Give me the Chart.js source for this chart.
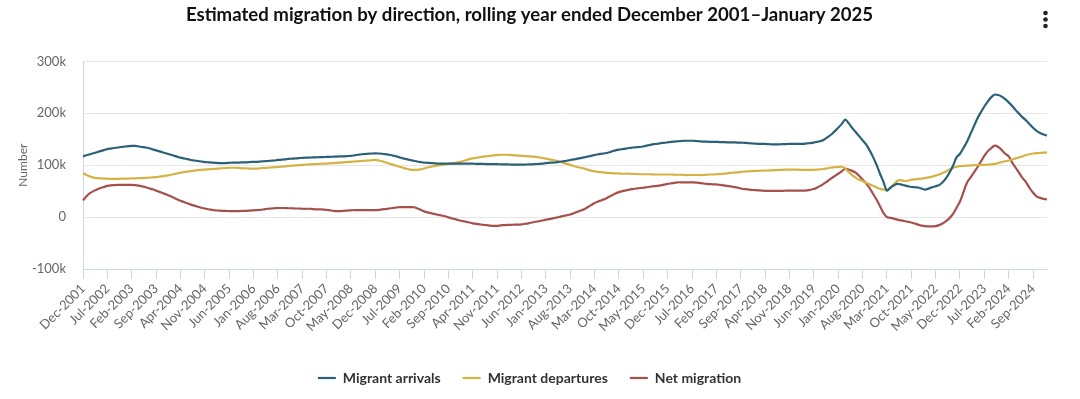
<!DOCTYPE html>
<html>
<head>
<meta charset="utf-8">
<script src="https://cdn.jsdelivr.net/npm/chart.js@4"></script>
<style>
  html, body { margin: 0; padding: 0; background: #ffffff; }
  #wrap { width: 1080px; height: 399px; position: relative; }
</style>
</head>
<body>
<div id="wrap"><canvas id="c" width="1080" height="399"></canvas></div>
<script>
// ---- Data (values in thousands) ----
const monthNames = ["Jan","Feb","Mar","Apr","May","Jun","Jul","Aug","Sep","Oct","Nov","Dec"];
const startYear = 2001, startMonth = 11; // Dec-2001
const monthCount = 278;                   // Dec-2001 .. Jan-2025

const tickLabels = ["Dec-2001","Jul-2002","Feb-2003","Sep-2003","Apr-2004","Nov-2004","Jun-2005","Jan-2006","Aug-2006","Mar-2007",
  "Oct-2007","May-2008","Dec-2008","Jul-2009","Feb-2010","Sep-2010","Apr-2011","Nov-2011","Jun-2012","Jan-2013",
  "Aug-2013","Mar-2014","Oct-2014","May-2015","Dec-2015","Jul-2016","Feb-2017","Sep-2017","Apr-2018","Nov-2018",
  "Jun-2019","Jan-2020","Aug-2020","Mar-2021","Oct-2021","May-2022","Dec-2022","Jul-2023","Feb-2024","Sep-2024"];

const yTicks = [-100, 0, 100, 200, 300];

const arrivals = [
  117,119,121,123,125,127,129,131,132,133,134,135,
  136,136.5,137,137,136,135,134,132.5,130.5,128.5,126.5,124.5,
  122.5,120.5,118.5,116.5,114.5,113,111.5,110,109,108,107,106,
  105.5,105,104.5,104,104,104,104.5,105,105,105,105.5,105.5,
  106,106.5,106.5,107,107.5,108,108.5,109,110,110.5,111,112,
  112.5,113,113.5,114,114.5,114.5,115,115,115.5,115.5,116,116,
  116.5,116.5,117,117,117.5,118,119,120,121,121.5,122,122.5,
  122.7,122.5,122,121,120,118.5,117,115,113,111.5,110,108.5,
  107,106,105,104.5,104,103.5,103,103,103,103,103,103,
  103,103,103,103,103,102.5,102.5,102.5,102,102,102,102,
  101.5,101.5,101.5,101,101,101,101,101,101.5,101.5,102,102.5,
  103,104,104.5,105,105.5,106.5,107.5,108.5,110,111,112.5,113.5,
  115,116.5,118,119.5,121,122,123,124.5,126.5,128.5,130,131,
  132,133,134,134.5,135,136,137.5,139,140.5,141,142.5,143,
  144,145,145.5,146,146.5,147,147,147,146.5,146,145.5,145.5,
  145,145,145,144.5,144.5,144,144,144,143.5,143.5,143,142.5,
  142,141.5,141,141,141,140.5,140,140,140,140.5,140.5,141,
  141,141,141,141,142,142.5,143.5,145,146.5,149.5,154,159,
  165.5,172,179,187.7,181,172,164,156,148,140,129,116,
  101,84,68,51,56.5,61,64,63,61,59.5,58,57.5,
  57,55,53,55,57.5,59.5,61.5,67,75,86,99,115,
  122,133,145,160,175,190,202,213,223,231,236,235,
  232,227,221,214,206,199,192,186,179,172,166,162,
  159,157
];

const departures = [
  85,81,78,76,75,74.5,74,74,73.5,73.5,73.5,74,
  74,74,74.5,74.5,75,75,75.5,76,76.5,77,78,79,
  80,81,82.5,84,85.5,86.5,87.5,88.5,89.5,90.5,91,91.5,
  92,92.5,93,93.5,94,94.5,95,95,95,94.5,94,94,
  93.5,93.5,93.5,94,94.5,95,95.5,96,96.5,97,97.5,98.5,
  99,99.5,100,100.5,101,101.5,102,102,102.5,103,103,103.5,
  104,104.5,105,105.5,106,106.5,107,107.5,108,108.5,109,109.5,
  110,109,107.5,105,103,101,99,97,95,93,91.5,91,
  91,92,93.5,95.5,97,98.5,99.5,100.5,101.5,102.5,103.5,104.5,
  106,107.5,109.5,111.5,113,114,115.5,116.5,117,118,119,119.5,
  120,120,120,119.5,119,118.5,118,117.5,117,116.5,116,115,
  114,112.5,111,110,108.5,106.5,104.5,102.5,100.5,98.5,96.5,95,
  93.5,91.5,89.5,88,87,86.5,85.5,85,84.5,84,84,83.5,
  83.5,83.5,83,83,82.5,82.5,82.5,82.5,82,82,82,82,
  82,82,81.5,81.5,81.5,81,81,81,81,81,81,81.5,
  82,82,82.5,83,83.5,84,85,85.5,86,87,87.5,88,
  88.5,89,89,89.5,89.5,90,90,90.5,91,91,91.5,91.5,
  91.5,91.5,91,91,91,91,91,91.5,92,93,94,95.5,
  96,96.5,97,94,87,81,76,72,69.5,66,63,60.5,
  57,54.5,53,52,57,63,70,71,69.5,70,72,72.5,
  73.5,74,75,76.5,78,80,82,85,88,91.5,95,97,
  98,98.5,99,99.5,100,100,100.5,100.5,101,101.5,102.5,104,
  106,107.5,109,111,113,115,117,119.5,121,122.5,123,123.5,
  124,124.5
];

const netMigration = [
  32,40,46,50,53,56,58,60,61,61.5,62,62,
  62,62,62,61.5,60.5,59,57.5,55.5,53.5,51,48.5,46,
  43.5,40.5,37.5,34.5,31.5,29,26.5,24,22,20,18,16.5,
  15,14,13,12.5,12,12,11.5,11.5,11.5,11.5,12,12,
  12.5,13,13.5,14,15,16,16.5,17,17.5,17.5,17.5,17,
  17,16.5,16.5,16,16,16,15.5,15,15,14.5,14,13,
  12,11.5,11.5,12,12.5,13,13.5,13.5,13.5,13.5,13.5,13.5,
  13.5,14,15,15.5,16.5,17.5,18.5,19,19,19,19,19,
  17,14,11,9,7.5,6,4.5,3,1.5,-0.5,-2.5,-4,
  -6,-7.5,-9,-10.5,-12,-13,-14,-15,-15.5,-16.5,-17,-17,
  -16,-15.5,-15,-15,-14.5,-14.5,-14,-13,-12,-10.5,-9,-8,
  -6.5,-5,-4,-2.5,-1,0.5,2,3.5,5,7.5,10,12.5,
  15,19,23,27,30,32.5,35,38.5,42,45.5,48,50,
  51.5,53,54,55,56,56.5,57.5,58.5,59.5,60,61,62.5,
  64,65,66,67,67,67,67,67,66.5,66,65,64,
  63.5,63,63,62,61,60,59,58,57,55,54,53.5,
  52.5,52,51.5,51,50.5,50.5,50.5,50.5,50.5,50.5,51,51,
  51,51,51,51,51.5,52.5,54,57,60.5,65,69.5,74.5,
  79,83.5,88,93.5,91.5,89,85.5,79.5,72.5,65,56,45,
  34,21,8,0,-1.5,-3,-5,-6.5,-7.5,-9,-10.5,-12.5,
  -14.5,-16.5,-17.5,-18,-18,-17.5,-15.5,-12.5,-8,-2,6,18,
  30,48,66,76,86,96,107,118,127,133,137.5,135,
  129,122,117,105,95,85,75,67,56,47,40,37,
  35,34
];

// category labels (one per month)
const categories = [];
for (let i = 0; i < monthCount; i++) {
  const mi = (startMonth + i) % 12;
  const yr = startYear + Math.floor((startMonth + i) / 12);
  categories.push(monthNames[mi] + "-" + yr);
}

const colors = { arrivals: "#2b6079", departures: "#d5b244", net: "#a6504d" };
const FONT = "Lato, 'Open Sans', sans-serif";

const menuDots = {
  id: "menuDots",
  afterDraw(chart) {
    const ctx = chart.ctx;
    ctx.save();
    ctx.fillStyle = "#222";
    [13, 19.5, 26].forEach(y => {
      ctx.beginPath();
      ctx.arc(1045.5, y, 2.3, 0, Math.PI * 2);
      ctx.fill();
    });
    ctx.restore();
  }
};

new Chart(document.getElementById("c"), {
  type: "line",
  data: {
    labels: categories,
    datasets: [
      { label: "Migrant arrivals", data: arrivals, borderColor: colors.arrivals, backgroundColor: colors.arrivals, borderWidth: 2.2, pointRadius: 0, tension: 0.3 },
      { label: "Migrant departures", data: departures, borderColor: colors.departures, backgroundColor: colors.departures, borderWidth: 2.2, pointRadius: 0, tension: 0.3 },
      { label: "Net migration", data: netMigration, borderColor: colors.net, backgroundColor: colors.net, borderWidth: 2.2, pointRadius: 0, tension: 0.3 }
    ]
  },
  options: {
    responsive: false,
    animation: false,
    devicePixelRatio: 1,
    layout: { padding: { left: 12, right: 33, top: 0, bottom: 4 } },
    plugins: {
      title: {
        display: true,
        text: "Estimated migration by direction, rolling year ended December 2001\u2013January 2025",
        color: "#111",
        font: { family: FONT, size: 18.6, weight: "bold" },
        padding: { top: 4, bottom: 35 }
      },
      legend: {
        position: "bottom",
        labels: {
          usePointStyle: true,
          pointStyle: "line",
          pointStyleWidth: 18,
          color: "#333",
          font: { family: FONT, size: 14, weight: "bold" },
          padding: 22
        }
      },
      tooltip: { enabled: false }
    },
    scales: {
      x: {
        type: "category",
        offset: false,
        afterFit(s) { s.height = 80; },
        grid: { drawOnChartArea: false, drawTicks: true, tickLength: 10, color: "#ccd6eb" },
        border: { display: true, color: "#ccd6eb", width: 1 },
        ticks: {
          autoSkip: false,
          maxRotation: 45,
          minRotation: 45,
          color: "#666",
          padding: 2,
          font: { family: FONT, size: 13 },
          callback(val, idx) {
            const l = this.getLabelForValue(val);
            return tickLabels.includes(l) ? l : null;
          }
        }
      },
      y: {
        min: -100,
        max: 300,
        afterFit(s) { s.width = 71; },
        afterBuildTicks(s) { s.ticks = yTicks.map(v => ({ value: v })); },
        grid: { color: "#e6e6e6", drawTicks: false },
        border: { display: true, color: "#ccd6eb", width: 1 },
        ticks: {
          color: "#666",
          padding: 17,
          font: { family: FONT, size: 13 },
          callback(v) { return v === 0 ? "0" : v + "k"; }
        },
        title: {
          display: true,
          text: "Number",
          color: "#666",
          font: { family: FONT, size: 12 },
          padding: { top: 4, bottom: 0 }
        }
      }
    }
  },
  plugins: [menuDots]
});
</script>
</body>
</html>
